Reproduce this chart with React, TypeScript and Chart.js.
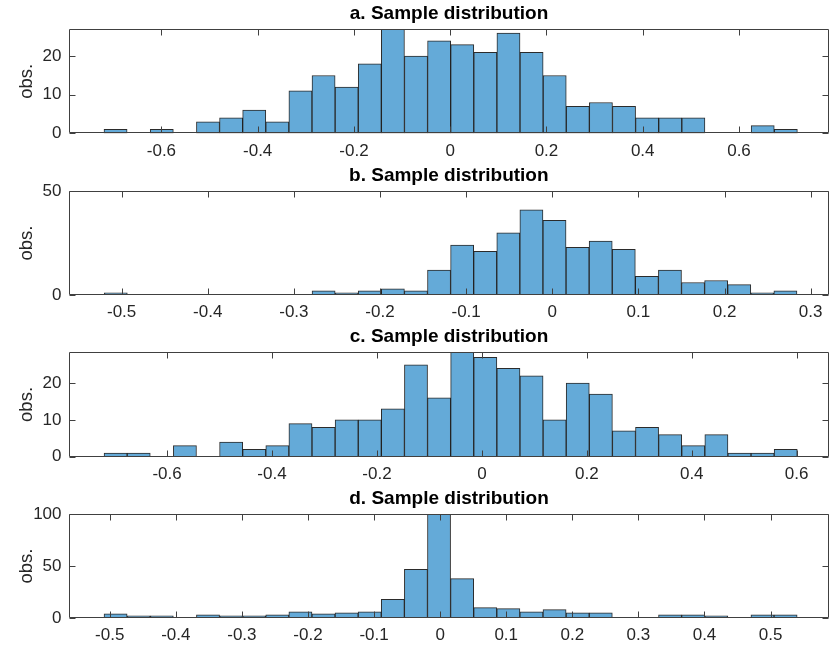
import React, { useEffect, useRef } from "react";
import { Chart, registerables } from "chart.js";

Chart.register(...registerables);

// ---------- DATA ----------
const panelTitles = [
  "a. Sample distribution",
  "b. Sample distribution",
  "c. Sample distribution",
  "d. Sample distribution",
];
const yAxisLabel = "obs.";

// histogram counts (one per bin, left to right)
const countsA = [1, 0, 1, 0, 3, 4, 6, 3, 11, 15, 12, 18, 27, 20, 24, 23, 21, 26, 21, 15, 7, 8, 7, 4, 4, 4, 0, 0, 2, 1];
const countsB = [1, 0, 0, 0, 0, 0, 0, 0, 0, 2, 1, 2, 3, 2, 12, 24, 21, 30, 41, 36, 23, 26, 22, 9, 12, 6, 7, 5, 1, 2];
const countsC = [1, 1, 0, 3, 0, 4, 2, 3, 9, 8, 10, 10, 13, 25, 16, 29, 27, 24, 22, 10, 20, 17, 7, 8, 6, 3, 6, 1, 1, 2];
const countsD = [4, 2, 2, 0, 3, 2, 2, 3, 6, 4, 5, 6, 18, 47, 100, 38, 10, 9, 6, 8, 5, 5, 0, 0, 3, 3, 2, 0, 3, 3];

// bin definitions (first bin's left edge, bin width)
const binStarts = [-0.7193, -0.5202, -0.7201, -0.5086];
const binWidths = [0.04802, 0.02681, 0.04404, 0.03496];

// axis ranges and tick steps
const xMins = [-0.792, -0.5611, -0.7869, -0.5616];
const xMaxs = [0.787, 0.3209, 0.6616, 0.5884];
const xSteps = [0.2, 0.1, 0.2, 0.1];
const yMaxs = [27, 50, 28.4, 100];
const ySteps = [10, 50, 10, 50];

// ---------- LAYOUT / STYLE ----------
const W = 830;
const canvasTops = [0, 162, 323, 485];
const canvasHeights = [168, 168, 168, 165];
const plotHeights = [104.1, 103.8, 104.5, 103.8];
const TITLE_BOX = 29.2;
const XAXIS_H = 30;
const FONT = "'Liberation Sans', Arial, Helvetica, sans-serif";
const BAR_FILL = "rgb(100,170,216)";
const BAR_EDGE = "rgba(20,20,20,0.9)";
const AXIS_COLOR = "#404040";
const TEXT_COLOR = "#262626";

const boxTicksPlugin = {
  id: "boxTicks",
  afterDatasetsDraw(chart: any) {
    const { ctx, chartArea } = chart;
    const { left, right, top, bottom } = chartArea;
    const xs = chart.scales.x;
    const ys = chart.scales.y;
    const L = Math.round(left) + 0.5;
    const R = Math.round(right) - 0.5;
    const T = Math.round(top) + 0.5;
    const B = Math.round(bottom) - 0.5;
    const tl = 6;
    ctx.save();
    ctx.strokeStyle = AXIS_COLOR;
    ctx.lineWidth = 1;
    ctx.beginPath();
    ctx.rect(L, T, R - L, B - T);
    xs.ticks.forEach((t: any) => {
      const px = Math.round(xs.getPixelForValue(t.value)) + 0.5;
      ctx.moveTo(px, B);
      ctx.lineTo(px, B - tl);
      ctx.moveTo(px, T);
      ctx.lineTo(px, T + tl);
    });
    ys.ticks.forEach((t: any) => {
      const py = Math.round(ys.getPixelForValue(t.value)) + 0.5;
      ctx.moveTo(L, py);
      ctx.lineTo(L + tl, py);
      ctx.moveTo(R, py);
      ctx.lineTo(R - tl, py);
    });
    ctx.stroke();
    ctx.restore();
  },
};

function Panel({ idx, counts }: { idx: number; counts: number[] }) {
  const ref = useRef<HTMLCanvasElement | null>(null);
  useEffect(() => {
    if (!ref.current) return;
    const start = binStarts[idx];
    const width = binWidths[idx];
    const data = counts.map((c, i) => ({ x: start + (i + 0.5) * width, y: c === 0 ? null : c }));
    const h = canvasHeights[idx];
    const padBottom = h - TITLE_BOX - plotHeights[idx] - XAXIS_H;
    const chart = new Chart(ref.current, {
      type: "bar",
      data: {
        datasets: [
          {
            data: data as any,
            backgroundColor: BAR_FILL,
            borderColor: BAR_EDGE,
            borderWidth: 1,
            borderSkipped: false,
            barPercentage: 1,
            categoryPercentage: 1,
          },
        ],
      },
      options: {
        animation: false,
        responsive: false,
        devicePixelRatio: 1,
        layout: { padding: { top: 0, left: 0, right: 1, bottom: padBottom } },
        plugins: {
          legend: { display: false },
          tooltip: { enabled: false },
          title: {
            display: true,
            text: panelTitles[idx],
            fullSize: false,
            color: "#000",
            font: { family: FONT, size: 19, weight: "bold", lineHeight: 1.2 },
            padding: { top: 2.6, bottom: 3.8 },
          },
        },
        scales: {
          x: {
            type: "linear",
            offset: false,
            min: xMins[idx],
            max: xMaxs[idx],
            grid: { display: false, offset: false, drawTicks: false, tickLength: 0 },
            border: { display: false },
            ticks: {
              stepSize: xSteps[idx],
              includeBounds: false,
              autoSkip: false,
              maxRotation: 0,
              color: TEXT_COLOR,
              padding: 7.5,
              font: { family: FONT, size: 17 },
            },
            afterFit: (s: any) => {
              s.height = XAXIS_H;
            },
          },
          y: {
            type: "linear",
            min: 0,
            max: yMaxs[idx],
            grid: { display: false, drawTicks: false, tickLength: 0 },
            border: { display: false },
            ticks: {
              stepSize: ySteps[idx],
              includeBounds: false,
              color: TEXT_COLOR,
              padding: 7.5,
              font: { family: FONT, size: 17 },
            },
            title: {
              display: true,
              text: yAxisLabel,
              color: TEXT_COLOR,
              font: { family: FONT, size: 18.5, lineHeight: 1.2 },
              padding: { top: 15.6, bottom: 0 },
            },
            afterFit: (s: any) => {
              s.width = 69;
            },
          },
        },
      } as any,
      plugins: [boxTicksPlugin],
    });
    return () => chart.destroy();
  }, [idx, counts]);
  return (
    <canvas
      ref={ref}
      width={W}
      height={canvasHeights[idx]}
      style={{ position: "absolute", left: 0, top: canvasTops[idx], width: W, height: canvasHeights[idx] }}
    />
  );
}

export default function App() {
  const all = [countsA, countsB, countsC, countsD];
  return (
    <div style={{ position: "fixed", left: 0, top: 0, width: W, height: 650, background: "#fff" }}>
      {all.map((c, i) => (
        <Panel key={i} idx={i} counts={c} />
      ))}
    </div>
  );
}
